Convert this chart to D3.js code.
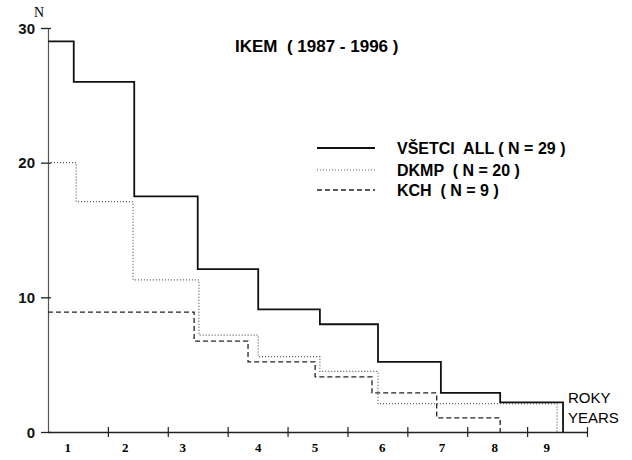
<!DOCTYPE html>
<meta charset="utf-8">
<script src="https://d3js.org/d3.v7.min.js"></script>
<style>
  body { margin: 0; background: #fff; }
  svg { display: block; }
</style>
<div id="my_dataviz"></div>
<script>

// Survival steps: time (years) where each level starts, and N
var allTimes = [0, 0.43, 1.44, 2.50, 3.51, 4.54, 5.51, 6.56, 7.55, 8.60];
var allN     = [29, 26, 17.5, 12.1, 9.1, 8, 5.2, 2.9, 2.2, 0];

var dkmpTimes = [0, 0.47, 1.42, 2.52, 3.51, 4.54, 5.51, 8.50];
var dkmpN     = [20, 17.1, 11.3, 7.2, 5.6, 4.5, 2.1, 0];

var kchTimes = [0, 2.44, 3.34, 4.46, 5.41, 6.49, 7.55];
var kchN     = [8.9, 6.75, 5.2, 4.1, 2.9, 1.05, 0];

// x axis: tick marks at year boundaries, labels sit a bit off-centre
var yearLabels = ["1", "2", "3", "4", "5", "6", "7", "8", "9"];
var yearLabelAt = [0.33, 1.29, 2.25, 3.51, 4.46, 5.58, 6.58, 7.46, 8.33];
var yTicks = [0, 10, 20, 30];

var legendNames = ["VŠETCI  ALL ( N = 29 )", "DKMP  ( N = 20 )", "KCH  ( N = 9 )"];

var width = 632, height = 460;

var svg = d3.select("#my_dataviz")
  .append("svg")
    .attr("width", width)
    .attr("height", height);

var x = d3.scaleLinear().domain([0, 9]).range([48, 587]);
var y = d3.scaleLinear().domain([0, 30]).range([432, 28]);

var sans = "'Liberation Sans', Arial, sans-serif";
var serif = "'Liberation Serif', 'Times New Roman', serif";

// Y axis
var yAxis = svg.append("g")
  .attr("transform", "translate(" + x(0) + ",0)")
  .call(d3.axisLeft(y).tickValues(yTicks).tickSize(0).tickFormat(""));
yAxis.select(".domain").attr("stroke", "#555").attr("stroke-width", 1.2);
yAxis.selectAll(".tick").append("line")
  .attr("x1", -7).attr("x2", 3)
  .attr("stroke", "#222").attr("stroke-width", 1.3);
yAxis.selectAll(".tick").append("text")
  .attr("x", -13).attr("dy", "0.35em")
  .attr("text-anchor", "end")
  .attr("fill", "#111")
  .style("font", "bold 15px " + sans)
  .text(function(d) { return d; });

svg.append("text")
  .attr("x", 39).attr("y", 17)
  .attr("text-anchor", "middle")
  .style("font", "14px " + serif)
  .text("N");

// X axis
var xAxis = svg.append("g")
  .attr("transform", "translate(0," + y(0) + ")")
  .call(d3.axisBottom(x).ticks(9).tickSize(0).tickFormat(""));
xAxis.select(".domain").attr("stroke", "#222").attr("stroke-width", 1.5);
xAxis.selectAll(".tick").filter(function(d) { return d > 0; }).append("line")
  .attr("y1", -5).attr("y2", 5)
  .attr("stroke", "#222").attr("stroke-width", 1.2);

svg.append("g").selectAll("text")
  .data(yearLabels)
  .join("text")
    .attr("x", function(d, i) { return x(yearLabelAt[i]); })
    .attr("y", 452)
    .attr("text-anchor", "middle")
    .style("font", "bold 13px " + serif)
    .text(function(d) { return d; });

svg.append("text")
  .attr("x", 568).attr("y", 403)
  .style("font", "15px " + sans)
  .text("ROKY");
svg.append("text")
  .attr("x", 568).attr("y", 423)
  .style("font", "15px " + sans)
  .text("YEARS");

// Title
svg.append("text")
  .attr("x", 235).attr("y", 52)
  .attr("xml:space", "preserve")
  .style("white-space", "pre")
  .style("font", "bold 17px " + sans)
  .text("IKEM  ( 1987 - 1996 )");

// Step curves
var line = d3.line()
  .x(function(d) { return x(d[0]); })
  .y(function(d) { return y(d[1]); })
  .curve(d3.curveStepAfter);

function pairs(t, n) { return t.map(function(v, i) { return [v, n[i]]; }); }

var series = [
  { pts: pairs(allTimes, allN),   stroke: "#111", width: 1.8, dash: null },
  { pts: pairs(dkmpTimes, dkmpN), stroke: "#555", width: 1.2, dash: "1,2" },
  { pts: pairs(kchTimes, kchN),   stroke: "#222", width: 1.3, dash: "5,3" }
];

svg.append("g").selectAll("path")
  .data(series)
  .join("path")
    .attr("d", function(d) { return line(d.pts); })
    .attr("fill", "none")
    .attr("stroke", function(d) { return d.stroke; })
    .attr("stroke-width", function(d) { return d.width; })
    .attr("stroke-dasharray", function(d) { return d.dash; });

// Legend
var legendY = [148, 170, 190];
var legend = svg.append("g").selectAll("g")
  .data(series)
  .join("g")
    .attr("transform", function(d, i) { return "translate(0," + legendY[i] + ")"; });
legend.append("line")
  .attr("x1", 317).attr("x2", 375)
  .attr("stroke", function(d) { return d.stroke; })
  .attr("stroke-width", function(d) { return d.width; })
  .attr("stroke-dasharray", function(d) { return d.dash; });
legend.append("text")
  .attr("x", 397).attr("y", 6)
  .attr("xml:space", "preserve")
  .style("white-space", "pre")
  .style("font", "bold 16px " + sans)
  .text(function(d, i) { return legendNames[i]; });

</script>
